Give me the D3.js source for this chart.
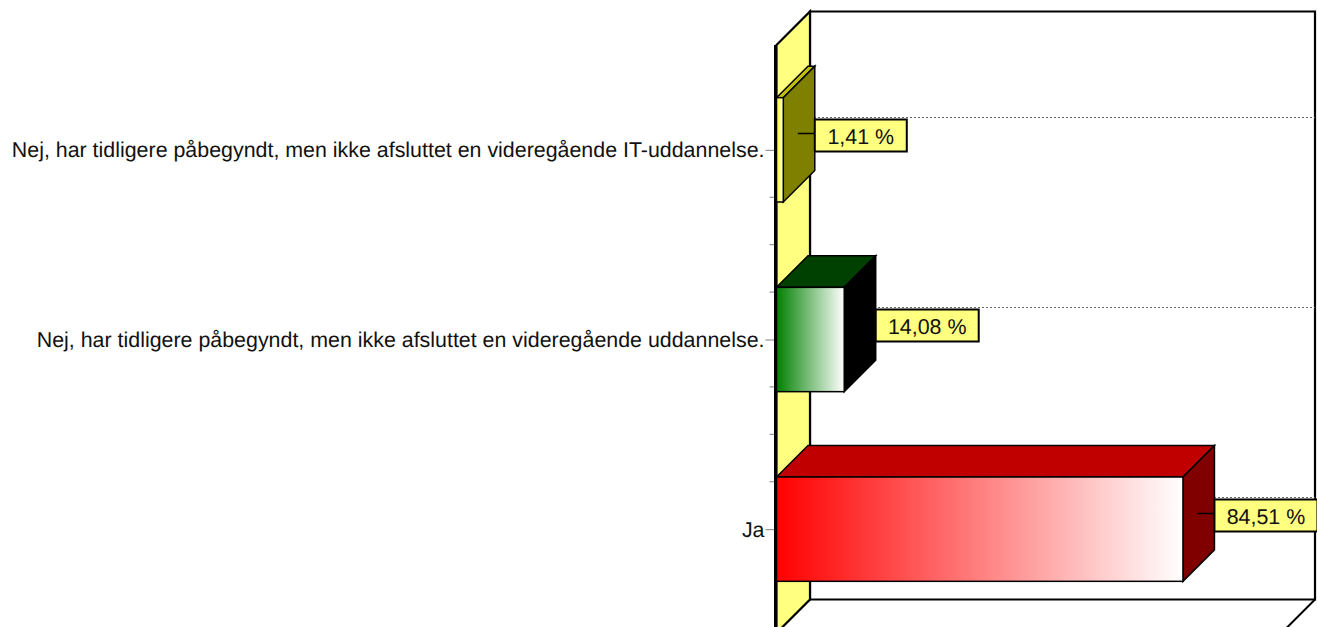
<!DOCTYPE html>
<html>
<head>
<meta charset="utf-8">
<script src="https://cdn.jsdelivr.net/npm/d3@7"></script>
<style>
body { margin: 0; background: #fff; overflow: hidden; }
text { font-family: "Liberation Sans", Arial, sans-serif; fill: #111; text-rendering: geometricPrecision; }
</style>
</head>
<body>
<svg id="chart" width="1317" height="627"></svg>
<script>
// Chart data, top to bottom
var categories = [
    'Nej, har tidligere påbegyndt, men ikke afsluttet en videregående IT-uddannelse.',
    'Nej, har tidligere påbegyndt, men ikke afsluttet en videregående uddannelse.',
    'Ja'
];
var values = [1.41, 14.08, 84.51];
var frontColors = ['#ffff00', '#008000', '#ff0000'];
var topColors = ['#c0c000', '#004000', '#c00000'];
var sideColors = ['#808000', '#000000', '#800000'];
var minorSteps = [0.25, 0.5, 0.75];

var depth = 33.5, barDepth = 31.5, axisX = 776.5, plotTop = 45, plotBottom = 633;
var fontSize = 21.4;

var svg = d3.select('#chart');
var defs = svg.append('defs');

var x = d3.scaleLinear().domain([0, 105]).range([axisX, axisX + 505]);
var y = d3.scaleBand().domain(categories).range([55, 624]).paddingInner(0.45).paddingOuter(0.225);

function mid(c){ return y(c) + y.bandwidth() / 2; }
function pts(a){ return a.map(function(p){ return p.join(','); }).join(' '); }

//--------------------------------------------------------------
// Walls
var wallR = x.range()[1];

svg.append('polygon')
    .attr('points', pts([[axisX + depth, plotTop - depth], [wallR + depth, plotTop - depth], [wallR + depth, plotBottom - depth], [axisX + depth, plotBottom - depth]]))
    .attr('fill', '#fff').attr('stroke', '#000').attr('stroke-width', 2.2);

svg.append('polygon')
    .attr('points', pts([[axisX, plotTop], [axisX + depth, plotTop - depth], [axisX + depth, plotBottom - depth], [axisX, plotBottom]]))
    .attr('fill', '#ffff80').attr('stroke', '#000').attr('stroke-width', 2.2);

svg.append('line')
    .attr('x1', wallR + depth).attr('y1', plotBottom - depth)
    .attr('x2', wallR).attr('y2', plotBottom)
    .attr('stroke', '#000').attr('stroke-width', 2);

//--------------------------------------------------------------
// Dotted grid lines on the back wall
svg.selectAll('.grid')
    .data(categories)
  .enter().append('line')
    .attr('class', 'grid')
    .attr('x1', axisX + depth).attr('x2', wallR + depth)
    .attr('y1', function(d){ return Math.round(mid(d) - depth + 1) + 0.5; })
    .attr('y2', function(d){ return Math.round(mid(d) - depth + 1) + 0.5; })
    .attr('stroke', '#666').attr('stroke-width', 1).attr('stroke-dasharray', '2,2');

//--------------------------------------------------------------
// Category axis
var axis = svg.append('g')
    .attr('transform', 'translate(' + (axisX - 1) + ',0.5)')
    .call(d3.axisLeft(y).tickSize(10).tickPadding(1));
axis.select('.domain').remove();
axis.selectAll('line').attr('stroke', '#808080').attr('stroke-width', 1);
axis.selectAll('text').attr('font-size', fontSize).attr('fill', '#111').style('font-family', '"Liberation Sans", Arial, sans-serif');

var minor = [];
categories.slice(0, -1).forEach(function(c, i)
{
    minorSteps.forEach(function(t)
    {
        minor.push(d3.interpolateNumber(mid(c), mid(categories[i + 1]))(t));
    });
});

svg.selectAll('.minor')
    .data(minor)
  .enter().append('line')
    .attr('class', 'minor')
    .attr('x1', axisX - 7).attr('x2', axisX - 1)
    .attr('y1', function(d){ return d; }).attr('y2', function(d){ return d; })
    .attr('stroke', '#808080');

svg.append('line')
    .attr('x1', axisX - 1).attr('x2', axisX - 1)
    .attr('y1', plotTop).attr('y2', plotBottom)
    .attr('stroke', '#000').attr('stroke-width', 3);

//--------------------------------------------------------------
// Bars
categories.forEach(function(c, i)
{
    var id = 'grad' + i;
    var g = defs.append('linearGradient').attr('id', id);
    g.append('stop').attr('offset', '0%').attr('stop-color', frontColors[i]);
    g.append('stop').attr('offset', '100%').attr('stop-color', '#fff');

    var x0 = axisX, x1 = x(values[i]), y0 = y(c), y1 = y0 + y.bandwidth();

    svg.append('polygon')
        .attr('points', pts([[x0, y0], [x0 + barDepth, y0 - barDepth], [x1 + barDepth, y0 - barDepth], [x1, y0]]))
        .attr('fill', topColors[i]).attr('stroke', '#000').attr('stroke-width', 1.5);

    svg.append('polygon')
        .attr('points', pts([[x1, y0], [x1 + barDepth, y0 - barDepth], [x1 + barDepth, y1 - barDepth], [x1, y1]]))
        .attr('fill', sideColors[i]).attr('stroke', '#000').attr('stroke-width', 1.5);

    svg.append('rect')
        .attr('x', x0).attr('y', y0)
        .attr('width', x1 - x0).attr('height', y1 - y0)
        .attr('fill', 'url(#' + id + ')').attr('stroke', '#000').attr('stroke-width', 1.5);
});

//--------------------------------------------------------------
// Value labels
var boxW = 92, boxH = 32;
var fmt = d3.format('.2f');

categories.forEach(function(c, i)
{
    var left = x(values[i]) + barDepth;
    var top = Math.round(mid(c) - depth + 3) + 0.5;
    var label = fmt(values[i]).replace('.', ',') + ' %';
    var w = values[i] < 10 ? boxW : boxW + 11;

    svg.append('line')
        .attr('x1', left - 17).attr('x2', left)
        .attr('y1', top + 14).attr('y2', top + 14)
        .attr('stroke', '#000').attr('stroke-width', 1.5);

    svg.append('rect')
        .attr('x', left).attr('y', top)
        .attr('width', w).attr('height', boxH)
        .attr('fill', '#ffff80').attr('stroke', '#000').attr('stroke-width', 2);

    svg.append('text')
        .attr('x', left + w / 2).attr('y', top + boxH / 2 + 8)
        .attr('text-anchor', 'middle').attr('font-size', fontSize)
        .text(label);
});
</script>
</body>
</html>
